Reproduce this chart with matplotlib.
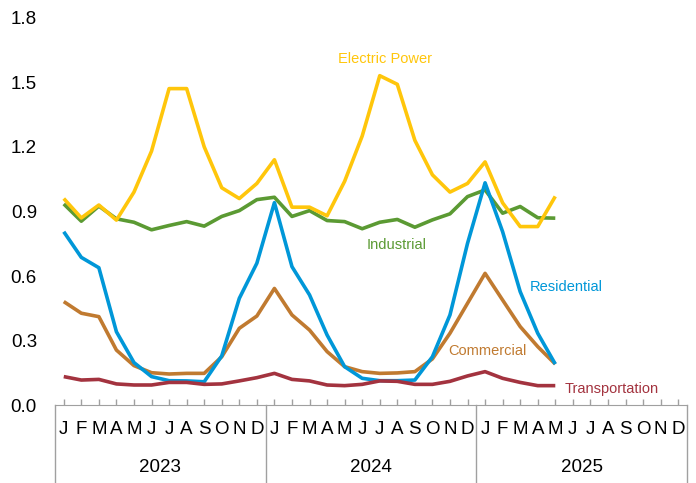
import matplotlib
matplotlib.use("Agg")
import matplotlib.pyplot as plt
from matplotlib import font_manager

# monthly values, Jan 2023 - May 2025
electric = [0.96, 0.87, 0.93, 0.86, 0.99, 1.18, 1.47, 1.47, 1.20, 1.01, 0.96, 1.03,
            1.14, 0.92, 0.92, 0.88, 1.04, 1.25, 1.53, 1.49, 1.23, 1.07, 0.99, 1.03,
            1.13, 0.94, 0.83, 0.83, 0.97]
industrial = [0.935, 0.855, 0.925, 0.866, 0.850, 0.815, 0.835, 0.853, 0.832, 0.877, 0.904, 0.955,
              0.966, 0.877, 0.904, 0.858, 0.853, 0.820, 0.850, 0.863, 0.827, 0.861, 0.889, 0.969,
              1.000, 0.892, 0.923, 0.871, 0.869]
residential = [0.806, 0.687, 0.639, 0.342, 0.199, 0.134, 0.115, 0.114, 0.110, 0.230, 0.497, 0.660,
               0.941, 0.644, 0.513, 0.327, 0.180, 0.126, 0.115, 0.115, 0.118, 0.226, 0.420, 0.752,
               1.033, 0.806, 0.528, 0.335, 0.192]
commercial = [0.482, 0.428, 0.412, 0.257, 0.185, 0.152, 0.146, 0.149, 0.149, 0.226, 0.358, 0.415,
              0.543, 0.420, 0.350, 0.250, 0.180, 0.157, 0.149, 0.151, 0.157, 0.216, 0.335, 0.474,
              0.613, 0.489, 0.366, 0.273, 0.192]
transportation = [0.134, 0.118, 0.121, 0.100, 0.095, 0.095, 0.107, 0.107, 0.098, 0.100, 0.114, 0.129,
                  0.149, 0.121, 0.114, 0.095, 0.092, 0.098, 0.114, 0.112, 0.098, 0.098, 0.112, 0.137,
                  0.157, 0.126, 0.107, 0.092, 0.092]

months = ["J", "F", "M", "A", "M", "J", "J", "A", "S", "O", "N", "D"]
years = ["2023", "2024", "2025"]
yticks = [0.0, 0.3, 0.6, 0.9, 1.2, 1.5, 1.8]

fam = ["Liberation Sans", "DejaVu Sans"]
plt.rcParams["font.family"] = fam

fig = plt.figure(figsize=(6.96, 4.83), dpi=100)
ax = fig.add_axes([0.079, 0.1605, 0.908, 0.8033])

x = list(range(len(electric)))
ax.plot(x, industrial, color="#5B9A33", lw=2.6, solid_capstyle="butt")
ax.plot(x, electric, color="#FFC60B", lw=2.6, solid_capstyle="butt")
ax.plot(x, commercial, color="#C07A30", lw=2.6, solid_capstyle="butt")
ax.plot(x, residential, color="#0097D8", lw=2.6, solid_capstyle="butt")
ax.plot(x, transportation, color="#A3333F", lw=2.6, solid_capstyle="butt")

ax.text(18.3, 1.607, "Electric Power", color="#FFC60B", fontsize=10.5, ha="center", va="center")
ax.text(18.97, 0.744, "Industrial", color="#5B9A33", fontsize=10.5, ha="center", va="center")
ax.text(28.6, 0.549, "Residential", color="#0097D8", fontsize=10.5, ha="center", va="center")
ax.text(24.16, 0.254, "Commercial", color="#C07A30", fontsize=10.5, ha="center", va="center")
ax.text(31.22, 0.077, "Transportation", color="#A3333F", fontsize=10.5, ha="center", va="center")

ax.set_xlim(-0.5, 35.5)
ax.set_ylim(0, 1.8)
ax.set_yticks(yticks)
ax.set_yticklabels(["%.1f" % v for v in yticks], fontsize=13.5)
ax.tick_params(axis="y", length=0, pad=13)

ax.set_xticks(range(36))
ax.set_xticklabels([])
ax.tick_params(axis="x", direction="in", length=4, color="#A0A0A0", width=1)

for s in ["left", "right", "top"]:
    ax.spines[s].set_visible(False)
ax.spines["bottom"].set_color("#A0A0A0")

trans = ax.get_xaxis_transform()
for k in range(36):
    ax.text(k, -0.063, months[k % 12], transform=trans, ha="center", va="center", fontsize=13.5)
for n, yr in enumerate(years):
    ax.text(12 * n + 5.5, -0.161, yr, transform=trans, ha="center", va="center", fontsize=13.5)
for b in [-0.5, 11.5, 23.5, 35.5]:
    ax.plot([b, b], [0, -0.21], transform=trans, color="#A0A0A0", lw=1, clip_on=False)

fig.savefig("out.png", dpi=100)
